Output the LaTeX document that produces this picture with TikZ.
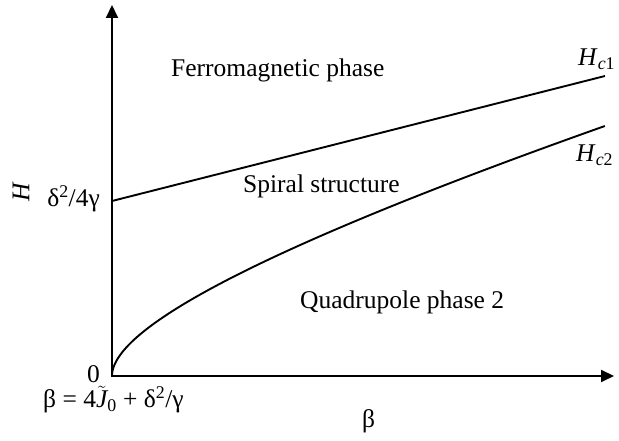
\documentclass[tikz,border=0pt]{standalone}
\usepackage{fontspec}
\setmainfont{Liberation Serif}
\usetikzlibrary{arrows.meta}

\newcommand{\tildeJ}{$\tilde{\mbox{\itshape J}}$}

\begin{document}
\begin{tikzpicture}[
    x=1pt, y=1pt,
    axis/.style={line width=2pt, {Triangle[length=13pt, width=12pt]}-{Triangle[length=13pt, width=12pt]}},
    curve/.style={line width=1.9pt},
    lbl/.style={font=\fontsize{25.5}{30}\selectfont, inner sep=0pt}
]
\useasboundingbox (-112,-65) rectangle (507,376);
% axes
\coordinate (O) at (0,0);
\coordinate (ytop) at (0,371);
\coordinate (xend) at (502,0);
\draw[axis] (ytop) -- (O) -- (xend);
% critical fields
\coordinate (hc1start) at (0,175);
\coordinate (hc1end) at (493,300);
\draw[curve] (hc1start) -- (hc1end);
\draw[curve] plot[domain=0:22.2, samples=90, variable=\t, smooth] ({\t*\t}, {6.78*\t+0.2018*\t*\t});
% phases
\node[lbl, anchor=base west] (ferro) at (59,299) {Ferromagnetic phase};
\node[lbl, anchor=base west] (spiral) at (131,183) {Spiral structure};
\node[lbl, anchor=base west] (quad) at (188,67) {Quadrupole phase 2};
\node[lbl, anchor=base west] (hc1) at (466,310) {\textit{H}\textsubscript{\textit{c}1}};
\node[lbl, anchor=base west] (hc2) at (464,214) {\textit{H}\textsubscript{\textit{c}2}};
% axis labels
\node[lbl, rotate=90] (hlabel) at (-91,184) {\textit{H}};
\node[lbl, anchor=base east] (hzero) at (-12,169) {δ\textsuperscript{2}/4γ};
\node[lbl, anchor=base east] (zero) at (-12,-7) {0};
\node[lbl, anchor=base west] (bzero) at (-69,-32) {β = 4\tildeJ\textsubscript{0} + δ\textsuperscript{2}/γ};
\node[lbl, anchor=base west] (blabel) at (250,-52) {β};
\end{tikzpicture}
\end{document}
